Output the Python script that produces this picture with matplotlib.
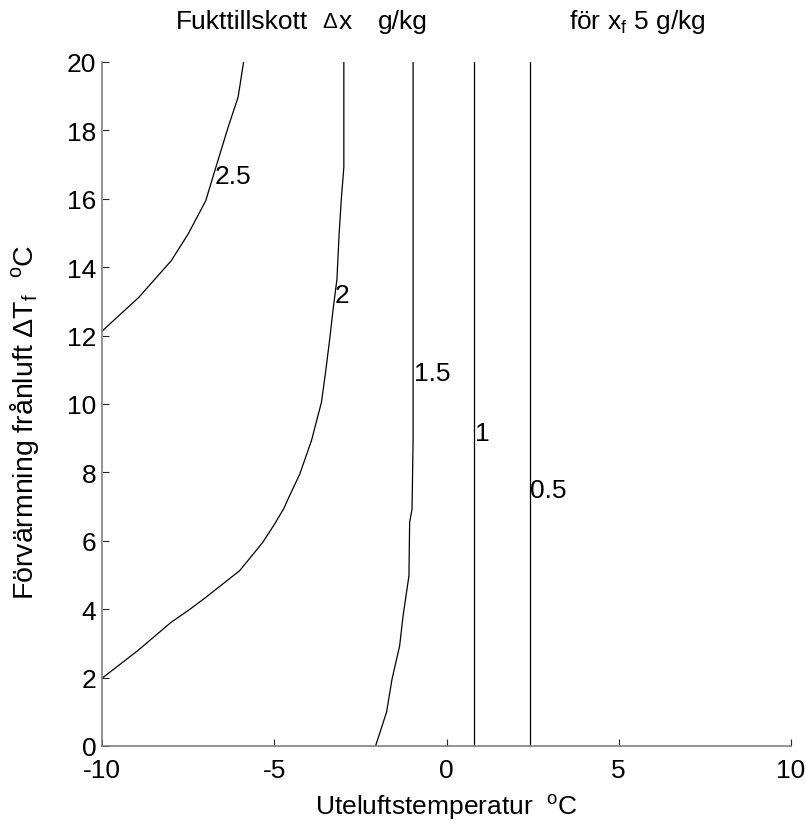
import matplotlib
matplotlib.use('Agg')
import matplotlib.pyplot as plt

plt.rcParams['font.family'] = ['Liberation Sans', 'DejaVu Sans']
plt.rcParams['mathtext.default'] = 'regular'
plt.rcParams['axes.unicode_minus'] = False

# contour lines: (temperature, preheating)
levels = ['2.5', '2', '1.5', '1', '0.5']

x_25 = [-10, -8.93, -7.99, -7.50, -6.99, -6.68, -6.34, -6.05, -5.89]
y_25 = [12.13, 13.12, 14.19, 14.97, 15.94, 16.97, 18.09, 18.97, 20]

x_2 = [-10, -8.96, -7.99, -7.50, -7.02, -6.00, -5.33, -4.99, -4.73, -4.60,
       -4.26, -3.92, -3.63, -3.51, -3.39, -3.29, -3.18, -3.12, -3.05, -2.98, -2.98]
y_2 = [1.98, 2.79, 3.62, 3.96, 4.32, 5.13, 5.96, 6.49, 6.93, 7.22,
       7.95, 8.93, 10.05, 10.93, 11.9, 12.78, 13.65, 14.92, 16.04, 16.92, 20]

x_15 = [-2.06, -1.74, -1.58, -1.36, -1.26, -1.09, -1.07, -1.00, -0.97, -0.97]
y_15 = [0, 0.99, 1.96, 2.93, 3.81, 4.98, 6.54, 6.93, 8.93, 20]

x_1 = [0.79, 0.79]
y_1 = [0, 20]

x_05 = [2.41, 2.41]
y_05 = [0, 20]

# label positions (left edge of text)
label_x = [-6.72, -3.25, -0.95, 0.82, 2.42]
label_y = [16.68, 13.2, 10.9, 9.15, 7.5]

FS = 19

fig = plt.figure(figsize=(8.06, 8.29), dpi=100)
ax = fig.add_axes([102 / 806, 1 - 747 / 829, 689 / 806, 684 / 829])

for xs, ys in [(x_25, y_25), (x_2, y_2), (x_15, y_15), (x_1, y_1), (x_05, y_05)]:
    ax.plot(xs, ys, color='k', lw=0.9)

for lab, lx, ly in zip(levels, label_x, label_y):
    ax.text(lx, ly, lab, fontsize=FS, ha='left', va='center')

ax.set_xlim(-10, 10)
ax.set_ylim(0, 20)
ax.set_xticks([-10, -5, 0, 5, 10])
ax.set_yticks(range(0, 21, 2))
ax.tick_params(direction='in', length=5, labelsize=FS, color='0.15')
ax.tick_params(axis='x', pad=9)
ax.tick_params(axis='y', pad=4)
for s in ['top', 'right']:
    ax.spines[s].set_visible(False)
for s in ['left', 'bottom']:
    ax.spines[s].set_color('0.5')
    ax.spines[s].set_linewidth(1.2)

ax.set_xlabel('Uteluftstemperatur  $^o$C', fontsize=FS, labelpad=7)
ax.set_ylabel('Förvärmning frånluft $\\Delta$T$_f$  $^o$C', fontsize=20.5, loc='bottom')
ax.yaxis.set_label_coords(-0.088, (747 - 600) / 684)

# title pieces
ty = 1 - 22 / 829
fig.text(176 / 806, ty, 'Fukttillskott', fontsize=FS, ha='left', va='center')
fig.text(322 / 806, ty, '$\\Delta$', fontsize=16, ha='left', va='center')
fig.text(339 / 806, ty, 'x', fontsize=FS, ha='left', va='center')
fig.text(378 / 806, ty, 'g/kg', fontsize=FS, ha='left', va='center')
fig.text(569 / 806, ty, 'för x$_f$ 5 g/kg', fontsize=FS, ha='left', va='center')

fig.savefig('out.png', dpi=100)
